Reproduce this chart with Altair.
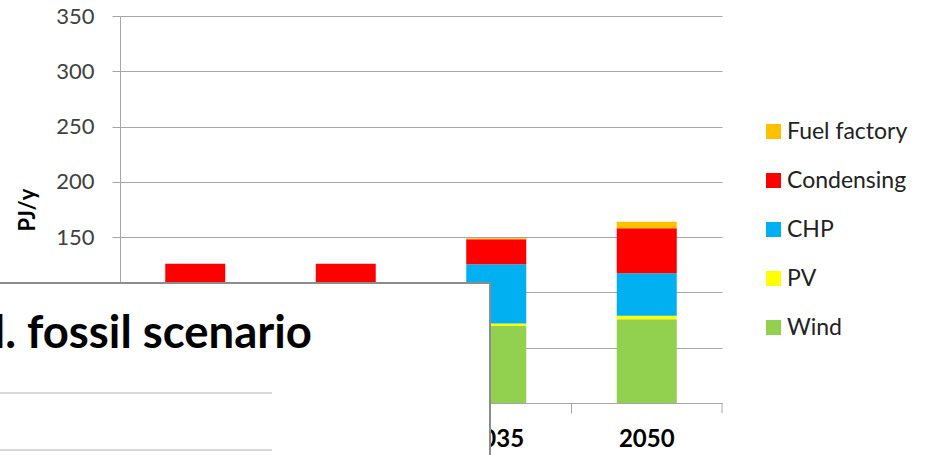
import altair as alt
import pandas as pd

years = ["2010", "2020", "2035", "2050"]
sources = ["Fuel factory", "Condensing", "CHP", "PV", "Wind"]
colors = ["#FFC000", "#FF0000", "#00B0F0", "#FFFF00", "#92D050"]
wind = [20.0, 40.0, 69.6, 75.7]
pv = [0.5, 1.0, 2.4, 3.3]
chp = [70.0, 55.0, 53.4, 38.3]
condensing = [35.5, 30.0, 22.6, 40.7]
fuel_factory = [0.0, 0.0, 0.9, 6.0]
y_ticks = [0, 50, 100, 150, 200, 250, 300, 350]
overlay_title = "d. fossil scenario"

series = {"Wind": wind, "PV": pv, "CHP": chp, "Condensing": condensing,
          "Fuel factory": fuel_factory}
stack_rank = {"Wind": 0, "PV": 1, "CHP": 2, "Condensing": 3, "Fuel factory": 4}
rows = []
for s, vals in series.items():
    for yr, v in zip(years, vals):
        rows.append({"year": yr, "source": s, "value": v, "rank": stack_rank[s]})
df = pd.DataFrame(rows)

FONT = "Lato"
GREY = "#a6a6a6"
W, H = 602, 387

bars = alt.Chart(df).mark_bar(size=60).encode(
    x=alt.X("year:N", sort=years,
            scale=alt.Scale(paddingInner=0, paddingOuter=0),
            axis=alt.Axis(title=None, bandPosition=0, labelAngle=0,
                          labelFont=FONT, labelFontSize=24, labelFontWeight="bold",
                          labelColor="#000000", domainColor=GREY, tickColor=GREY,
                          tickSize=10, labelPadding=14, grid=False, zindex=0)),
    y=alt.Y("value:Q", stack="zero",
            scale=alt.Scale(domain=[0, 350], nice=False),
            axis=alt.Axis(values=y_ticks, title="PJ/y", titleFont=FONT, titleFontSize=22,
                          titleFontWeight="bold", titleColor="#000000", titleX=-86,
                          titleY=H / 2, titleBaseline="alphabetic", titleAngle=270,
                          labelFont=FONT, labelFontSize=22, labelColor="#404040",
                          labelPadding=18, tickSize=8, tickColor=GREY, domainColor=GREY,
                          gridColor=GREY, grid=True, zindex=0)),
    color=alt.Color("source:N", scale=alt.Scale(domain=sources, range=colors),
                    legend=alt.Legend(title=None, orient="none", legendX=642, legendY=104,
                                      symbolType="square", symbolSize=225,
                                      symbolStrokeWidth=0, labelFont=FONT,
                                      labelFontSize=23, labelColor="#222222",
                                      rowPadding=25, labelOffset=2, padding=0)),
    order=alt.Order("rank:Q", sort="ascending"),
)

one = pd.DataFrame({"k": [0]})

end_tick = alt.Chart(one).mark_rule(color=GREY, strokeWidth=1).encode(
    x=alt.value(W), y=alt.value(H), y2=alt.value(H + 10))

panel = alt.Chart(one).mark_rect(fill="white", stroke="#8c8c8c", strokeWidth=2).encode(
    x=alt.value(-140), x2=alt.value(370), y=alt.value(267), y2=alt.value(480))

line1 = alt.Chart(one).mark_rule(color="#b0b0b0", strokeWidth=1).encode(
    x=alt.value(-130), x2=alt.value(152), y=alt.value(377))
line2 = alt.Chart(one).mark_rule(color="#b0b0b0", strokeWidth=1).encode(
    x=alt.value(-130), x2=alt.value(152), y=alt.value(434))

title_text = alt.Chart(one).mark_text(
    text=overlay_title, font=FONT, fontSize=45.5, fontWeight="bold", align="right",
    baseline="alphabetic", color="#000000").encode(x=alt.value(192), y=alt.value(332))

chart = alt.layer(bars, end_tick, panel, line1, line2, title_text).properties(
    width=W, height=H,
    autosize=alt.AutoSizeParams(type="none"),
    padding={"left": 120, "top": 16, "right": 207, "bottom": 52},
    background="white",
).configure_view(stroke=None)

chart.save("out.html", embed_options={"renderer": "svg", "actions": False})
